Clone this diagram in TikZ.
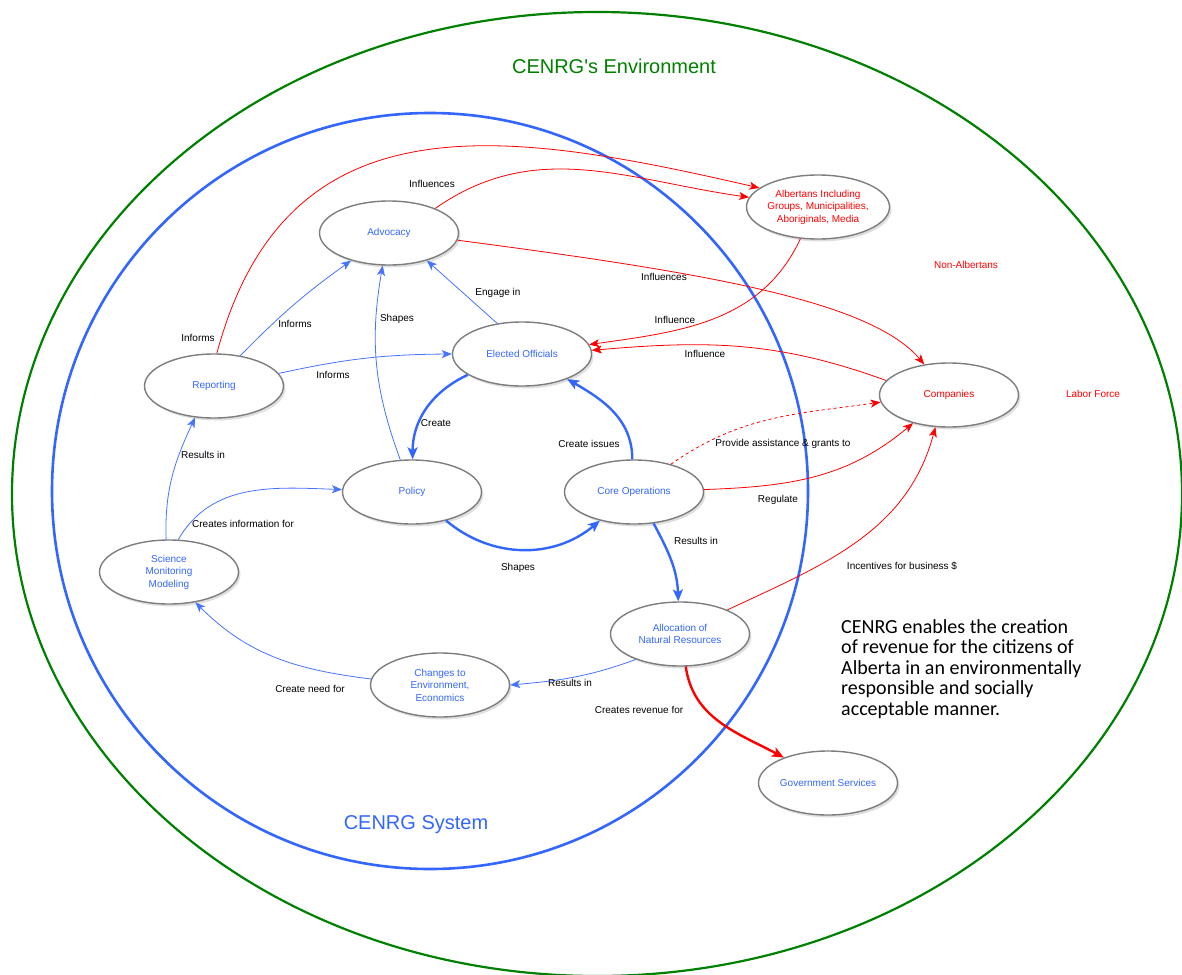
\documentclass[tikz,border=0pt]{standalone}
\usepackage{fontspec}
\setmainfont{Liberation Sans}
\newfontfamily\calibri{Carlito}
\usepackage{xcolor}
\usetikzlibrary{arrows.meta,shapes.geometric,shadows}

\definecolor{sysblue}{RGB}{51,102,255}
\definecolor{linkblue}{RGB}{70,115,255}
\definecolor{envgreen}{RGB}{0,128,0}
\definecolor{nodegray}{RGB}{125,125,125}

\begin{document}
\begin{tikzpicture}[x=1pt, y=1pt,
  concept/.style={ellipse, draw=nodegray, line width=1.4pt, fill=white,
    minimum width=139pt, minimum height=64pt, inner sep=0pt, align=center,
    font=\fontsize{10}{12.5}\selectfont,
    drop shadow={shadow xshift=2pt, shadow yshift=-2.5pt, opacity=0.25}},
  inner/.style={concept, text=sysblue},
  outer/.style={concept, text=red},
  lbl/.style={font=\fontsize{10}{12}\selectfont, text=black, inner sep=0pt},
  bluelink/.style={-{Stealth[length=10pt, width=8pt, inset=2.5pt]}, linkblue, line width=0.8pt},
  bluemain/.style={-{Stealth[length=12pt, width=10pt, inset=3pt]}, sysblue, line width=2.4pt},
  redlink/.style={-{Stealth[length=10pt, width=8pt, inset=2.5pt]}, red, line width=0.8pt},
  redmain/.style={-{Stealth[length=12pt, width=10pt, inset=3pt]}, red, line width=2.4pt}]

\useasboundingbox (0,0) rectangle (1182,-974);

\draw[envgreen, line width=2.2pt] (597,-494) ellipse [x radius=585pt, y radius=482pt];
\draw[sysblue, line width=2.6pt] (430,-491) circle [radius=378pt];

\node[text=envgreen, font=\fontsize{20}{24}\selectfont] (envtitle) at (614,-66) {CENRG\textquotesingle s Environment};
\node[text=sysblue, font=\fontsize{20}{24}\selectfont] (systitle) at (416,-825) {CENRG System};
\node[text=red, font=\fontsize{10}{12}\selectfont] (nonalb) at (966,-265) {Non-Albertans};
\node[text=red, font=\fontsize{10}{12}\selectfont] (labor) at (1093,-394) {Labor Force};
\node[anchor=north west, align=left, inner sep=0pt, font=\calibri\fontsize{20}{20.5}\selectfont] (mission) at (841,-619)
  {CENRG enables the creation\\of revenue for the citizens of\\Alberta in an environmentally\\responsible and socially\\acceptable manner.};

\node[inner] (adv) at (389,-233) {Advocacy};
\node[inner] (eo) at (522,-354) {Elected Officials};
\node[inner] (rep) at (214,-386) {Reporting};
\node[inner] (pol) at (412,-492) {Policy};
\node[inner] (core) at (634,-492) {Core Operations};
\node[inner] (sci) at (169,-572) {Science\\Monitoring\\Modeling};
\node[inner] (chg) at (440,-685) {Changes to\\Environment,\\Economics};
\node[inner] (alloc) at (680,-634) {Allocation of\\Natural Resources};
\node[inner] (gov) at (828,-783) {Government Services};
\node[outer] (alb) at (818,-207) {Albertans Including\\Groups, Municipalities,\\Aboriginals, Media};
\node[outer] (comp) at (949,-395) {Companies};

\draw[redlink] (rep.85) to[out=75, in=167, looseness=1.2] (alb.162)
    node[lbl] at (198,-338) {Informs};
\draw[redlink] (adv.28) to[out=35, in=172] (alb.172)
    node[lbl] at (432,-184) {Influences};
\draw[redlink] (adv.354) .. controls (700,-272) and (870,-300) .. (comp.129)
    node[lbl] at (664,-277) {Influences};
\draw[redlink] (alb.241) to[out=245, in=8] (eo.8)
    node[lbl] at (675,-320) {Influence};
\draw[redlink] (comp.167) to[out=160, in=5] (eo.3)
    node[lbl] at (705,-354) {Influence};
\draw[redlink, dashed] (core.37) to[out=35, in=188] (comp.186)
    node[lbl] at (783,-444) {Provide assistance \& grants to};
\draw[redlink] (core.2) to[out=2, in=220] (comp.218)
    node[lbl] at (778,-500) {Regulate};
\draw[redlink] (alloc.27) to[out=25, in=255] (comp.247)
    node[lbl] at (902,-566) {Incentives for business \$};
\draw[redmain] (alloc.280) to[out=-82, in=152] (gov.150)
    node[lbl] at (639,-710) {Creates revenue for};

\draw[bluelink] (rep.49) to[bend left=5] (adv.216)
    node[lbl] at (295,-324) {Informs};
\draw[bluelink] (rep.11) to[bend left=6] (eo.180)
    node[lbl] at (333,-375) {Informs};
\draw[bluelink] (pol.110) to[bend left=15] (adv.259)
    node[lbl] at (397,-319) {Shapes};
\draw[bluelink] (eo.129) -- (adv.324)
    node[lbl] at (498,-293) {Engage in};
\draw[bluemain] (eo.201) to[out=205, in=90] (pol.89)
    node[lbl] at (436,-423) {Create};
\draw[bluemain] (core.93) to[out=90, in=-30] (eo.331)
    node[lbl] at (589,-444) {Create issues};
\draw[bluemain] (pol.320) to[out=-40, in=220] (core.220)
    node[lbl] at (518,-568) {Shapes};
\draw[bluemain] (core.302) to[out=-62, in=92] (alloc.93)
    node[lbl] at (696,-541) {Results in};
\draw[bluelink] (alloc.210) to[out=200, in=5] (chg.0)
    node[lbl] at (570,-683) {Results in};
\draw[bluelink] (chg.175) to[out=173, in=-45] (sci.311)
    node[lbl] at (310,-689) {Create need for};
\draw[bluelink] (sci.95) to[out=92, in=245] (rep.239)
    node[lbl] at (203,-455) {Results in};
\draw[bluelink] (sci.74) to[out=60, in=178] (pol.178)
    node[lbl] at (243,-524) {Creates information for};

\end{tikzpicture}
\end{document}
